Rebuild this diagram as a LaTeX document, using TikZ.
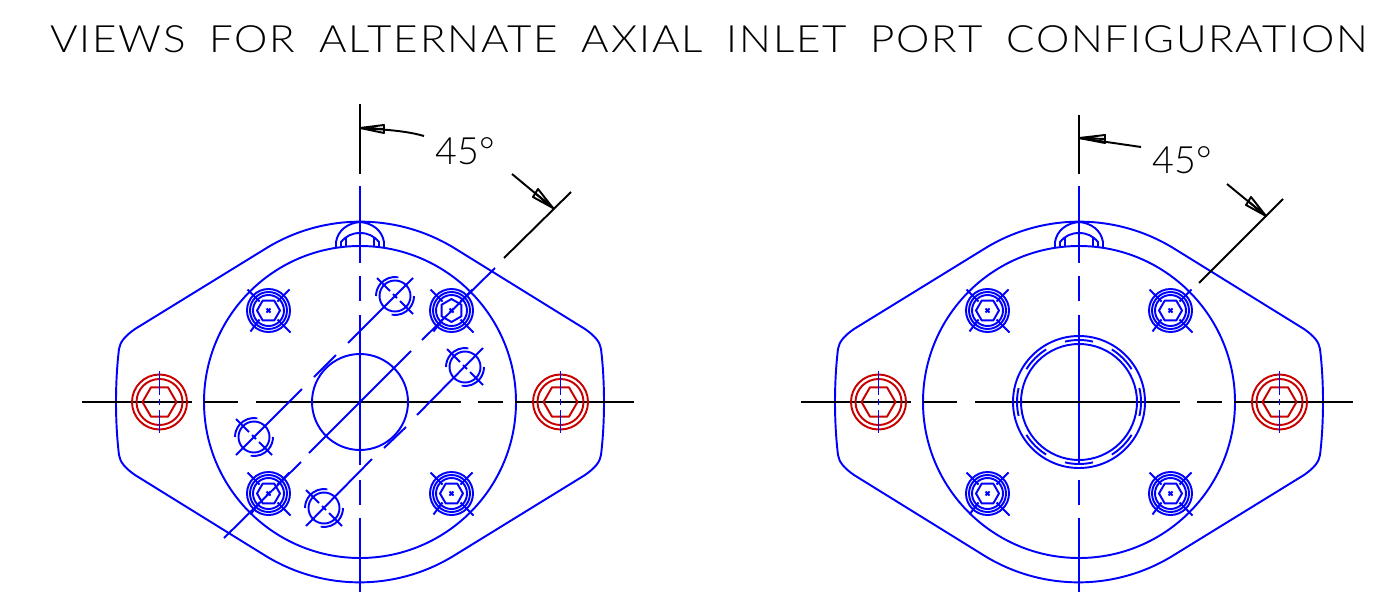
\documentclass[tikz,border=0pt]{standalone}
\usepackage{fontspec}
\setmainfont{Lato Light}
\newfontfamily\titlefont{Lato Light}[FakeStretch=1.12, LetterSpace=4.8, WordSpace=1.8]
\tikzset{
  partline/.style={draw=partblue, line width=1.1pt, line join=round},
  redline/.style={draw=partred, line width=1.1pt, line join=round},
  dimline/.style={draw=black, line width=1.1pt, line join=round},
  titletext/.style={font=\titlefont\fontsize{21.4}{24}\selectfont, inner sep=0pt, text=black},
  dimtext/.style={font=\fontsize{21.4}{24}\selectfont, inner sep=0pt, text=black}
}
\definecolor{partblue}{RGB}{0,0,255}
\definecolor{partred}{RGB}{200,0,0}

% outline, lug, pilot circle, centre lines and fasteners shared by both views
\newcommand{\portbody}[3]{
  \draw [partline] (-95,153) arc [start angle=122, end angle=58, radius=180]
    -- (225,73) .. controls (235,66) and (240,60) .. (241,53)
    .. controls (245,20) and (245,-20) .. (241,-53)
    .. controls (240,-60) and (235,-66) .. (225,-73)
    -- (95,-153) arc [start angle=-58, end angle=-122, radius=180]
    -- (-225,-73) .. controls (-235,-66) and (-240,-60) .. (-241,-53)
    .. controls (-245,-20) and (-245,20) .. (-241,53)
    .. controls (-240,60) and (-235,66) .. (-225,73) -- cycle;
  \draw [partline] (0,0) circle (156);
  \draw [partline] (-24,155) -- (-24,160) .. controls (-22,172) and (-12,179) .. (0,180)
    .. controls (12,179) and (22,172) .. (24,160) -- (24,155);
  \draw [partline] (-19,156) -- (-19,160) .. controls (-14,166) and (-8,169) .. (0,169)
    .. controls (8,169) and (14,166) .. (19,160) -- (19,156);
  \draw [partline] (-14,156) -- (-14,164) (14,156) -- (14,164);
  \foreach \a/\b in {216/139, 126/101, 87/-63, -78/-103, -116/-190}
    \draw [partline] (0,\a) -- (0,\b);
  \draw [dimline] (0,#1) -- (0,228);
  \foreach \a/\b in {-278/-168, -156/-122, -104/101, 118/143, 155/274}
    \draw [dimline] (\a,0) -- (\b,0);
  \foreach \x in {-200.5, 200.5} {
    \draw [redline] (\x,0) circle (27.5) (\x,0) circle (23);
    \draw [redline] (\x-17,0) -- (\x-8.5,14.7) -- (\x+8.5,14.7) -- (\x+17,0)
      -- (\x+8.5,-14.7) -- (\x-8.5,-14.7) -- cycle;
    \foreach \a/\b in {31/7, 3/-3, -8/-31}
      \draw [partline] (\x,\a) -- (\x,\b);
  }
  \foreach \x/\y/\r in {-91.5/91.5/#2, 91.5/91.5/#3, -91.5/-91.5/#2, 91.5/-91.5/0} {
    \begin{scope}[shift={(\x,\y)}]
      \foreach \c in {21.5, 18.5, 15.5}
        \draw [partline] (0,0) circle (\c);
      \draw [partline, rotate=\r] (0:11.5) -- (60:11.5) -- (120:11.5) -- (180:11.5)
        -- (240:11.5) -- (300:11.5) -- cycle;
      \draw [partline] (-2,-2) -- (2,2) (-2,2) -- (2,-2);
      \draw [partline] (-21,21) -- (-9,9) (9,-9) -- (22,-22)
        (21,21) -- (9,9) (-9,-9) -- (-18,-21);
    \end{scope}
  }
}

\begin{document}
\begin{tikzpicture}[x=0.02cm, y=0.02cm]
\useasboundingbox (0,0) rectangle (1383,593);

\node [titletext] (title) at (709,554) {VIEWS FOR ALTERNATE AXIAL INLET PORT CONFIGURATION};

% left view
\begin{scope}[shift={(360,191)}]
  \portbody{298}{0}{30}
  \draw [partline] (0,0) circle (48);
  \foreach \a/\b/\c/\d in {-136/-136/-59/-60, -51/-51/51/51, 62/62/135/134,
      -124/-53/-58/13, -46/25/-24/47, -12/59/53/124,
      -54/-124/12/-57, 24/-46/46/-25, 57/-13/123/54}
    \draw [partline] (\a,\b) -- (\c,\d);
  \foreach \x/\y in {35/106, 105/35, -106/-35, -36/-106} {
    \begin{scope}[shift={(\x,\y)}]
      \draw [partline] (0,0) circle (15.5);
      \draw [partline] (80:19) arc [start angle=80, end angle=180, radius=19];
      \draw [partline] (260:19) arc [start angle=260, end angle=360, radius=19];
      \draw [partline] (-18,18) -- (-5,5) (5,-5) -- (18,-18) (-2,2) -- (2,-2);
    \end{scope}
  }
  \draw [dimline] (144,144) -- (211,210);
  \draw [dimline] (64,266) .. controls (50,270) and (35,272) .. (0,274);
  \draw [dimline] (0,274) -- (24,277) -- (24,269) -- cycle (0,274) -- (24,273);
  \draw [dimline] (152,228) -- (193,194);
  \draw [dimline] (193,194) -- (178,213) -- (173,205) -- cycle (193,194) -- (175,209);
\end{scope}

% right view
\begin{scope}[shift={(1079,191)}]
  \portbody{287}{0}{0}
  \foreach \c in {66, 58}
    \draw [partline] (0,0) circle (\c);
  \foreach \t in {0,45,...,315}
    \draw [partline] (\t-13:62) arc [start angle=\t-13, end angle=\t+13, radius=62];
  \draw [dimline] (120,119) -- (204,203);
  \draw [dimline] (62,255) -- (0,264);
  \draw [dimline] (0,264) -- (26,267) -- (26,259) -- cycle (0,264) -- (26,263);
  \draw [dimline] (148,218) -- (187,186);
  \draw [dimline] (187,186) -- (172,205) -- (167,197) -- cycle (187,186) -- (169,201);
\end{scope}

\node [dimtext] (angleone) at (465,442) {45°};
\node [dimtext] (angletwo) at (1182,433) {45°};
\end{tikzpicture}
\end{document}
